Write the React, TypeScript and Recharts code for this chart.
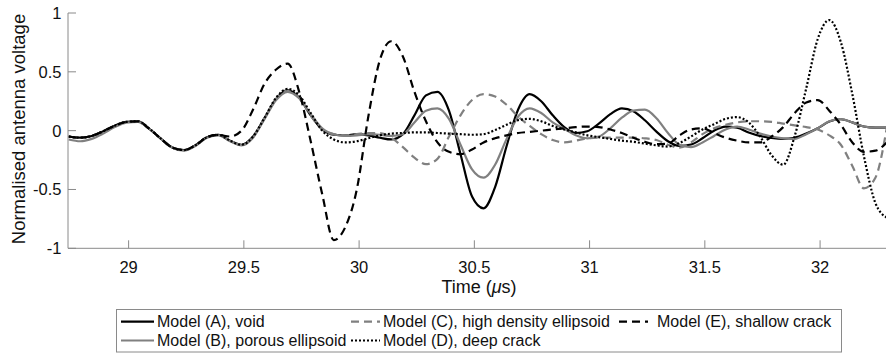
import { LineChart, Line, XAxis, YAxis, Legend } from "recharts"

// sample times (µs)
const times = [
  28.74, 28.79, 28.84, 28.89, 28.94, 28.99, 29.04, 29.09, 29.14, 29.19, 29.24, 29.29,
  29.34, 29.39, 29.44, 29.49, 29.54, 29.59, 29.64, 29.69, 29.74, 29.79, 29.84, 29.89,
  29.94, 29.99, 30.04, 30.09, 30.14, 30.19, 30.24, 30.29, 30.34, 30.39, 30.44, 30.49,
  30.54, 30.59, 30.64, 30.69, 30.74, 30.79, 30.84, 30.89, 30.94, 30.99, 31.04, 31.09,
  31.14, 31.19, 31.24, 31.29, 31.34, 31.39, 31.44, 31.49, 31.54, 31.59, 31.64, 31.69,
  31.74, 31.79, 31.84, 31.89, 31.94, 31.99, 32.04, 32.09, 32.14, 32.19, 32.24, 32.29,
]

const modelA = [
  -0.05, -0.06, -0.045, -0.005, 0.042, 0.074, 0.078, 0.015, -0.068, -0.144, -0.165, -0.124,
  -0.056, -0.036, -0.085, -0.12, -0.05, 0.108, 0.27, 0.345, 0.28, 0.13, 0.01, -0.035,
  -0.04, -0.03, -0.04, -0.06, -0.075, -0.03, 0.13, 0.3, 0.33, 0.17, -0.2, -0.56,
  -0.66, -0.48, -0.13, 0.18, 0.31, 0.25, 0.13, 0.03, -0.02, -0.005, 0.06, 0.14,
  0.19, 0.165, 0.088, -0.008, -0.09, -0.13, -0.118, -0.065, 0.0, 0.034, 0.025, -0.015,
  -0.045, -0.062, -0.07, -0.06, -0.025, 0.02, 0.078, 0.097, 0.07, 0.035, 0.025, 0.025,
]

const modelB = [
  -0.075, -0.09, -0.07, -0.025, 0.03, 0.068, 0.075, 0.015, -0.07, -0.145, -0.17, -0.13,
  -0.06, -0.04, -0.09, -0.125, -0.06, 0.1, 0.26, 0.33, 0.275, 0.14, 0.02, -0.03,
  -0.045, -0.04, -0.03, -0.035, -0.045, -0.03, 0.07, 0.17, 0.19, 0.1, -0.12, -0.33,
  -0.4, -0.29, -0.07, 0.12, 0.19, 0.15, 0.07, 0.015, -0.04, -0.065, -0.05, 0.02,
  0.11, 0.17, 0.178, 0.105, -0.02, -0.12, -0.14, -0.1, -0.045, 0.01, 0.035, 0.01,
  -0.025, -0.05, -0.065, -0.07, -0.03, 0.02, 0.08, 0.098, 0.07, 0.035, 0.025, 0.025,
]

const modelC = [
  -0.05, -0.06, -0.045, -0.005, 0.042, 0.074, 0.078, 0.015, -0.068, -0.144, -0.165, -0.124,
  -0.056, -0.036, -0.085, -0.12, -0.05, 0.108, 0.27, 0.34, 0.28, 0.13, 0.01, -0.03,
  -0.04, -0.03, -0.02, -0.02, -0.06, -0.14, -0.23, -0.285, -0.24, -0.05, 0.13, 0.26,
  0.31, 0.29, 0.22, 0.12, 0.04, -0.03, -0.08, -0.1, -0.085, -0.065, -0.06, -0.06,
  -0.06, -0.06, -0.065, -0.08, -0.12, -0.145, -0.1, -0.03, 0.02, 0.05, 0.07, 0.08,
  0.08, 0.075, 0.06, 0.045, 0.03, 0.01, -0.04, -0.12, -0.3, -0.49, -0.4, 0.03,
]

const modelD = [
  -0.05, -0.06, -0.045, -0.005, 0.042, 0.074, 0.08, 0.017, -0.068, -0.144, -0.165, -0.124,
  -0.056, -0.036, -0.085, -0.12, -0.05, 0.11, 0.28, 0.355, 0.3, 0.15, 0.0, -0.075,
  -0.1, -0.09, -0.065, -0.04, -0.025, -0.02, -0.015, -0.015, -0.02, -0.025, -0.03, -0.035,
  -0.03, 0.005, 0.05, 0.09, 0.1, 0.08, 0.04, 0.01, -0.015, -0.04, -0.055, -0.07,
  -0.085, -0.095, -0.11, -0.125, -0.135, -0.105, -0.05, 0.01, 0.055, 0.1, 0.115, 0.07,
  -0.05, -0.21, -0.29, -0.045, 0.36, 0.78, 0.94, 0.753, 0.309, -0.215, -0.615, -0.74,
]

const modelE = [
  -0.05, -0.06, -0.045, -0.005, 0.042, 0.074, 0.078, 0.015, -0.068, -0.144, -0.165, -0.124,
  -0.056, -0.036, -0.05, 0.0, 0.18, 0.4, 0.52, 0.57, 0.33, -0.09, -0.54, -0.93,
  -0.82, -0.5, 0.12, 0.6, 0.76, 0.63, 0.33, 0.08, -0.1, -0.18, -0.2, -0.16,
  -0.1, -0.065, -0.04, -0.02, -0.01, 0.0, 0.01, 0.02, 0.03, 0.035, 0.03, 0.01,
  -0.02, -0.06, -0.095, -0.115, -0.11, -0.04, 0.01, 0.02, -0.02, -0.06, -0.085, -0.1,
  -0.1, -0.05, 0.03, 0.15, 0.24, 0.26, 0.17, 0.05, -0.1, -0.18, -0.17, -0.1,
]

const xTicks = [29, 29.5, 30, 30.5, 31, 31.5, 32]
const yTicks = [-1, -0.5, 0, 0.5, 1]

const GREY = "#808080"
const AXIS = "#8a8a8a"
const INK = "#111"
const FONT = "'Liberation Sans', Arial, Helvetica, sans-serif"

const series = [
  { key: "a", name: "Model (A), void", color: "#000", dash: undefined, col: 0, row: 0 },
  { key: "b", name: "Model (B), porous ellipsoid", color: GREY, dash: undefined, col: 0, row: 1 },
  { key: "c", name: "Model (C), high density ellipsoid", color: GREY, dash: "8 5", col: 1, row: 0 },
  { key: "d", name: "Model (D), deep crack", color: "#000", dash: "2 2", col: 1, row: 1 },
  { key: "e", name: "Model (E), shallow crack", color: "#000", dash: "8 5", col: 2, row: 0 },
]

const rows = times.map((t, i) => ({
  t,
  a: modelA[i],
  b: modelB[i],
  c: modelC[i],
  d: modelD[i],
  e: modelE[i],
}))

// legend columns: sample start/end and text x, relative to box
const cols = [
  { x1: 5, x2: 38, tx: 41 },
  { x1: 235, x2: 264, tx: 267 },
  { x1: 503, x2: 532, tx: 541 },
]
const rowY = [12.7, 31.5]

function LegendBox() {
  return (
    <svg width={727} height={44} style={{ display: "block" }}>
      <rect x={0.5} y={0.5} width={725} height={42.5} fill="#fff" stroke={AXIS} />
      {series.map((s) => {
        const c = cols[s.col]
        const y = rowY[s.row]
        return (
          <g key={s.key}>
            <line x1={c.x1} x2={c.x2} y1={y} y2={y} stroke={s.color} strokeWidth={2.2} strokeDasharray={s.dash} />
            <text x={c.tx} y={y} dominantBaseline="central" fontSize={16} fill={INK} fontFamily={FONT}>
              {s.name}
            </text>
          </g>
        )
      })}
    </svg>
  )
}

function XTick({ x, y, payload }: any) {
  return (
    <g>
      <line x1={x} x2={x} y1={y} y2={y - 8} stroke={AXIS} />
      <text x={x} y={y + 18.4} textAnchor="middle" dominantBaseline="central" fontSize={16.5} fill={INK} fontFamily={FONT}>
        {String(payload.value)}
      </text>
    </g>
  )
}

function YTick({ x, y, payload }: any) {
  return (
    <g>
      <line x1={x} x2={x + 8} y1={y} y2={y} stroke={AXIS} />
      <text x={x - 6.5} y={y} textAnchor="end" dominantBaseline="central" fontSize={16.5} fill={INK} fontFamily={FONT}>
        {String(payload.value)}
      </text>
    </g>
  )
}

export default function App() {
  return (
    <div style={{ position: "absolute", left: 0, top: 0, width: 886, height: 355, background: "#fff" }}>
      <LineChart width={886} height={355} data={rows} margin={{ top: 13, right: 0, bottom: 76.7, left: 0 }}>
        <XAxis
          dataKey="t"
          type="number"
          domain={[28.737, 32.286]}
          allowDataOverflow
          ticks={xTicks}
          interval={0}
          tickSize={0}
          tickMargin={0}
          tickLine={false}
          tick={<XTick />}
          axisLine={{ stroke: AXIS }}
          height={30}
          label={{
            content: () => (
              <text x={479} y={293} textAnchor="middle" fontSize={18} fill={INK} fontFamily={FONT}>
                Time (<tspan fontStyle="italic">μ</tspan>s)
              </text>
            ),
          }}
        />
        <YAxis
          type="number"
          domain={[-1, 1]}
          ticks={yTicks}
          interval={0}
          width={68}
          tickSize={0}
          tickMargin={0}
          tickLine={false}
          tick={<YTick />}
          axisLine={{ stroke: AXIS }}
          label={{
            content: () => (
              <text
                transform="translate(24.5 129) rotate(-90)"
                textAnchor="middle"
                fontSize={18.5}
                fill={INK}
                fontFamily={FONT}
              >
                Normalised antenna voltage
              </text>
            ),
          }}
        />
        <Legend
          layout="horizontal"
          verticalAlign="middle"
          content={() => <LegendBox />}
          wrapperStyle={{ left: 116, top: 309, width: 727, height: 44 }}
        />
        {series.map((s) => (
          <Line
            key={s.key}
            type="monotone"
            dataKey={s.key}
            name={s.name}
            stroke={s.color}
            strokeWidth={2.2}
            strokeDasharray={s.dash}
            dot={false}
            activeDot={false}
            isAnimationActive={false}
          />
        ))}
      </LineChart>
    </div>
  )
}
